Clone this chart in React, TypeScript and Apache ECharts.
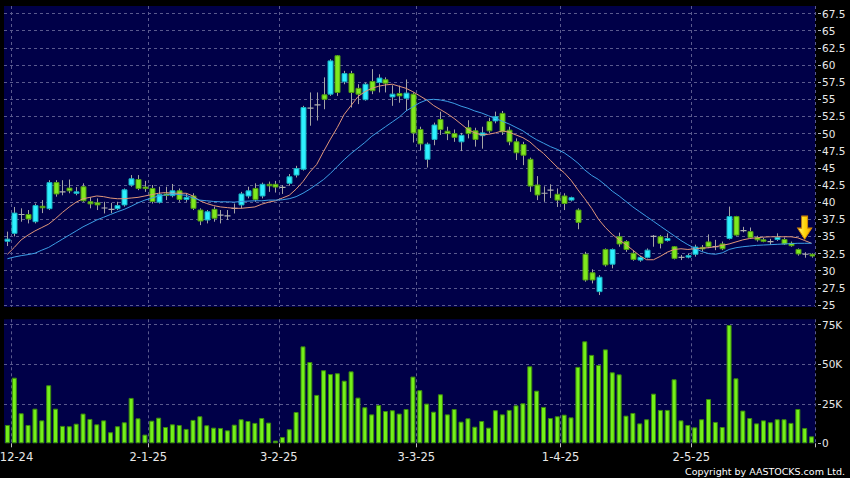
import React, { useEffect, useRef } from "react";
import * as echarts from "echarts";

// Trading days (D-M-YY)
const dates = [
  "29-11-24",
  "2-12-24", "3-12-24", "4-12-24", "5-12-24", "6-12-24", "9-12-24", "10-12-24", "11-12-24", "12-12-24", "13-12-24",
  "16-12-24", "17-12-24", "18-12-24", "19-12-24", "20-12-24", "23-12-24", "24-12-24", "27-12-24", "30-12-24", "31-12-24",
  "2-1-25", "3-1-25", "6-1-25", "7-1-25", "8-1-25", "9-1-25", "10-1-25", "13-1-25", "14-1-25", "15-1-25",
  "16-1-25", "17-1-25", "20-1-25", "21-1-25", "22-1-25", "23-1-25", "24-1-25", "27-1-25", "28-1-25",
  "3-2-25", "4-2-25", "5-2-25", "6-2-25", "7-2-25", "10-2-25", "11-2-25", "12-2-25", "13-2-25", "14-2-25",
  "17-2-25", "18-2-25", "19-2-25", "20-2-25", "21-2-25", "24-2-25", "25-2-25", "26-2-25", "27-2-25", "28-2-25",
  "3-3-25", "4-3-25", "5-3-25", "6-3-25", "7-3-25", "10-3-25", "11-3-25", "12-3-25", "13-3-25", "14-3-25",
  "17-3-25", "18-3-25", "19-3-25", "20-3-25", "21-3-25", "24-3-25", "25-3-25", "26-3-25", "27-3-25", "28-3-25", "31-3-25",
  "1-4-25", "2-4-25", "3-4-25", "7-4-25", "8-4-25", "9-4-25", "10-4-25", "11-4-25", "14-4-25", "15-4-25",
  "16-4-25", "17-4-25", "22-4-25", "23-4-25", "24-4-25", "25-4-25", "28-4-25", "29-4-25", "30-4-25",
  "2-5-25", "6-5-25", "7-5-25", "8-5-25", "9-5-25", "12-5-25", "13-5-25", "14-5-25", "15-5-25", "16-5-25",
  "19-5-25", "20-5-25", "21-5-25", "22-5-25", "23-5-25", "26-5-25", "27-5-25", "28-5-25",
];

const openP = [
  34.3, 35.45, 38.2, 38.2, 37.15, 39.4, 39.05, 42.85, 41.5, 42.05,
  41.4, 42.25, 40.05, 39.9, 39.15, 38.95, 39.05, 39.6, 42.5, 43.3,
  42.2, 42.0, 40.0, 41.2, 40.95, 41.65, 40.4, 40.9, 38.85, 37.4,
  38.95, 38.1, 38.0, 39.1, 39.6, 40.9, 42.0, 40.9, 42.6, 42.6,
  42.15, 42.75, 43.95, 44.8, 53.7, 54.2, 55.65, 55.75, 61.35, 57.55,
  58.75, 56.6, 54.95, 57.6, 57.45, 57.85, 55.35, 55.85, 55.15, 55.75,
  50.6, 46.25, 49.15, 52.05, 50.35, 50.0, 48.8, 50.85, 50.4, 49.7,
  51.75, 51.85, 52.95, 50.5, 48.8, 48.4, 46.25, 42.5, 41.3, 41.75,
  41.15, 40.9, 40.3, 38.85, 32.4, 29.7, 26.95, 33.1, 30.95, 34.95,
  34.25, 32.55, 31.55, 31.95, 35.0, 34.95, 34.4, 33.5, 31.95, 32.1,
  32.4, 33.4, 34.2, 33.5, 33.9, 34.7, 37.9, 35.85, 35.7, 34.85,
  34.5, 34.25, 34.55, 34.55, 34.0, 33.1, 32.4, 32.4,
];

const closeP = [
  34.6, 38.4, 38.2, 37.55, 39.5, 39.3, 42.85, 41.2, 41.5, 41.65,
  41.5, 40.2, 39.75, 39.6, 39.15, 38.95, 39.5, 41.8, 43.4, 42.0,
  42.1, 40.1, 41.1, 41.1, 41.65, 40.4, 40.7, 39.1, 37.25, 38.6,
  37.65, 38.1, 38.0, 39.1, 41.2, 41.65, 40.4, 42.6, 42.45, 42.2,
  42.15, 43.7, 44.9, 53.8, 53.7, 54.2, 55.0, 60.6, 56.0, 58.75,
  56.0, 55.75, 57.2, 56.25, 58.1, 57.35, 55.75, 55.5, 55.9, 50.1,
  48.5, 48.45, 51.25, 50.6, 50.0, 49.45, 49.75, 50.0, 49.15, 50.1,
  50.4, 52.45, 50.25, 48.8, 47.2, 46.85, 42.35, 41.05, 41.3, 41.75,
  40.3, 39.8, 40.65, 37.05, 28.65, 28.65, 29.05, 30.85, 33.1, 33.9,
  33.1, 31.65, 31.95, 33.0, 35.0, 34.0, 34.7, 31.8, 31.95, 32.2,
  33.45, 33.2, 33.5, 33.5, 33.2, 37.9, 35.2, 35.85, 34.85, 34.5,
  34.4, 34.25, 34.85, 33.9, 33.65, 32.45, 32.4, 32.15,
];

const lowP = [
  33.6, 35.0, 37.15, 36.9, 36.9, 38.4, 38.85, 40.8, 41.0, 41.3,
  41.0, 40.05, 39.1, 38.85, 38.35, 38.4, 38.85, 39.35, 42.25, 41.75,
  41.5, 39.8, 39.8, 40.3, 40.7, 40.05, 40.05, 38.85, 36.65, 36.9,
  37.15, 36.9, 37.4, 38.35, 39.1, 40.55, 40.05, 40.55, 41.5, 41.4,
  41.2, 42.4, 43.6, 44.6, 51.15, 51.9, 53.55, 55.5, 55.5, 57.2,
  53.8, 54.3, 54.8, 55.75, 56.0, 56.0, 54.05, 54.5, 53.3, 48.7,
  47.6, 45.05, 48.3, 49.8, 49.05, 48.8, 47.45, 49.3, 48.1, 47.8,
  50.1, 51.5, 49.8, 48.3, 46.15, 45.4, 41.5, 40.3, 40.05, 40.6,
  39.3, 38.85, 40.1, 36.05, 28.4, 28.15, 26.45, 30.6, 30.35, 33.5,
  32.75, 31.45, 31.3, 31.8, 33.5, 33.25, 34.25, 31.65, 31.55, 31.8,
  32.05, 32.8, 33.3, 33.0, 33.0, 34.55, 35.1, 35.6, 34.7, 34.25,
  34.15, 33.75, 34.35, 33.75, 33.5, 32.2, 31.9, 31.9,
];

const highP = [
  35.7, 39.3, 39.1, 38.85, 39.8, 40.3, 43.2, 43.2, 43.2, 43.3,
  42.2, 42.75, 40.7, 40.55, 40.05, 39.9, 40.05, 42.0, 43.95, 43.95,
  43.1, 42.5, 42.25, 42.25, 42.65, 42.0, 41.3, 41.3, 39.1, 38.85,
  39.35, 38.85, 38.85, 39.8, 41.5, 42.25, 42.75, 42.85, 43.0, 43.1,
  42.5, 44.1, 45.3, 54.05, 56.0, 56.0, 58.2, 60.85, 61.45, 59.15,
  59.15, 57.2, 57.45, 59.4, 58.65, 58.2, 57.05, 57.0, 57.9, 56.0,
  51.0, 48.7, 51.6, 53.2, 51.0, 50.6, 50.1, 51.95, 50.85, 51.0,
  52.3, 53.2, 53.3, 51.0, 49.3, 48.8, 46.5, 43.8, 42.3, 42.6,
  42.0, 41.3, 40.8, 39.1, 32.75, 30.2, 29.35, 33.25, 33.25, 35.55,
  34.45, 33.0, 32.15, 33.25, 35.2, 35.2, 35.45, 33.6, 32.3, 32.5,
  33.8, 33.75, 35.3, 34.5, 34.25, 39.35, 38.0, 36.4, 36.3, 35.1,
  34.8, 34.65, 35.45, 34.85, 34.25, 33.25, 32.7, 32.55,
];

// Volume in thousands of shares
const volumeK = [
  11.6, 41.5, 19.0, 11.6, 21.9, 14.5, 36.7, 21.9, 11.0, 10.8,
  12.4, 18.8, 15.4, 12.0, 14.5, 7.0, 10.8, 13.3, 28.7, 15.8,
  5.5, 14.3, 16.2, 10.3, 12.0, 11.6, 9.1, 14.8, 17.1, 11.4,
  9.9, 9.7, 8.2, 11.8, 15.2, 14.1, 12.9, 16.0, 13.1, 1.7,
  4.0, 8.9, 19.8, 61.3, 51.4, 30.6, 46.2, 43.8, 44.3, 39.6,
  45.5, 28.9, 22.8, 18.3, 24.2, 20.4, 20.9, 18.8, 21.7, 42.2,
  33.6, 25.1, 20.0, 31.0, 18.3, 21.7, 13.7, 15.8, 10.5, 14.1,
  9.9, 20.9, 18.3, 21.1, 24.0, 25.3, 48.7, 33.3, 23.0, 16.0,
  17.1, 18.1, 16.4, 48.3, 64.5, 55.9, 49.5, 59.4, 44.9, 43.6,
  17.5, 19.2, 12.6, 15.2, 31.4, 21.1, 21.1, 40.5, 14.5, 11.6,
  10.1, 15.2, 28.0, 13.5, 10.3, 74.8, 41.1, 20.7, 16.0, 12.6,
  14.5, 13.3, 15.2, 15.2, 12.9, 21.7, 9.7, 4.4,
];

// Moving averages
const maShort = [
  32.4, 33.4, 34.5, 35.2, 35.8, 36.3, 36.8, 37.6, 38.5, 39.3,
  40.0, 40.5, 40.7, 40.9, 40.8, 40.6, 40.5, 40.5, 40.6, 40.7,
  40.9, 41.1, 41.3, 41.4, 41.3, 41.3, 41.3, 40.9, 40.2, 39.8,
  39.5, 39.3, 39.2, 39.1, 39.1, 39.2, 39.3, 39.7, 40.0, 40.2,
  40.6, 41.0, 41.9, 43.0, 44.4, 45.5, 47.4, 49.2, 50.9, 52.8,
  54.1, 55.4, 56.1, 56.6, 56.9, 57.1, 57.2, 56.9, 56.6, 56.1,
  55.5, 54.9, 54.1, 53.5, 52.9, 52.2, 51.4, 50.6, 50.1, 49.8,
  49.9, 50.1, 50.4, 50.2, 49.8, 49.4, 48.8, 47.9, 47.1, 46.1,
  45.1, 44.3, 43.2, 41.8, 40.5, 39.1, 37.5, 36.3, 35.3, 34.5,
  33.8, 33.0, 32.2, 31.6, 31.6, 32.1, 32.7, 33.1, 33.2, 33.1,
  33.2, 33.3, 33.35, 33.5, 33.7, 33.9, 34.2, 34.5, 34.7, 34.8,
  34.9, 34.95, 34.95, 34.95, 34.95, 34.8, 34.4, 34.0,
];

const maLong = [
  31.75, 32.0, 32.2, 32.35, 32.55, 33.0, 33.4, 34.0, 34.6, 35.2,
  35.8, 36.4, 36.9, 37.4, 37.8, 38.2, 38.6, 38.95, 39.4, 39.9,
  40.3, 40.6, 40.9, 41.05, 41.2, 41.1, 41.0, 40.6, 40.3, 40.2,
  40.1, 40.05, 40.05, 40.0, 40.1, 40.15, 40.2, 40.2, 40.3, 40.3,
  40.35, 40.5, 40.8, 41.3, 41.9, 42.6, 43.3, 44.2, 45.2, 46.2,
  47.1, 47.9, 48.7, 49.6, 50.3, 51.0, 51.7, 52.4, 53.3, 53.9,
  54.5, 54.9, 55.0, 54.9, 54.7, 54.4, 54.0, 53.7, 53.3, 53.0,
  52.6, 52.2, 51.8, 51.4, 50.9, 50.4, 49.7, 49.1, 48.6, 48.1,
  47.7, 47.2, 46.5, 45.7, 44.7, 43.9, 43.3, 42.5, 41.6, 40.9,
  40.1, 39.3, 38.6, 37.9, 37.2, 36.5, 35.8, 35.1, 34.4, 33.8,
  33.3, 32.8, 32.5, 32.4, 32.6, 33.1, 33.35, 33.5, 33.6, 33.7,
  33.75, 33.8, 33.85, 33.9, 33.95, 34.0, 34.0, 34.0,
];

const labelDates = ["2-12-24", "2-1-25", "3-2-25", "3-3-25", "1-4-25", "2-5-25"];
const priceMin = 25;
const priceMax = 67.5;
const priceStep = 2.5;
const volMax = 75;
const volStep = 25;
const signalDate = "27-5-25";
const signalPrice = 34.6;

const BG = "#000048";
const GRID_LINE = "#5a5a8e";
const TEXT = "#e8e8e8";
const FONT = "DejaVu Sans";
const UP = "#2ef0ff";
const UP_EDGE = "#17aebd";
const DOWN = "#80e81e";
const DOWN_EDGE = "#4e9a12";
const WICK = "#a4a4a4";
const DOJI = "#b0b0b0";

const isLabel = (i: number) => labelDates.indexOf(dates[i]) >= 0;

const renderCandle = (_params: any, api: any) => {
  const i = api.value(0);
  const o = api.value(1);
  const c = api.value(2);
  const l = api.value(3);
  const h = api.value(4);
  const pHi = api.coord([i, h]);
  const pLo = api.coord([i, l]);
  const pO = api.coord([i, o]);
  const pC = api.coord([i, c]);
  const bw = api.size([1, 0])[0];
  const w = Math.max(3, Math.round(bw * 0.74));
  const x = Math.round(pHi[0]) + 0.5;
  const yTop = Math.min(pO[1], pC[1]);
  const yBot = Math.max(pO[1], pC[1]);
  const children: any[] = [
    {
      type: "line",
      shape: { x1: x, y1: pHi[1], x2: x, y2: pLo[1] },
      style: { stroke: WICK, lineWidth: 1 },
    },
  ];
  if (o === c) {
    children.push({
      type: "line",
      shape: { x1: x - w / 2 - 0.5, y1: yTop, x2: x + w / 2 + 0.5, y2: yTop },
      style: { stroke: DOJI, lineWidth: 1.2 },
    });
  } else {
    const up = c > o;
    children.push({
      type: "rect",
      shape: { x: x - w / 2, y: yTop, width: w, height: Math.max(yBot - yTop, 1.5) },
      style: { fill: up ? UP : DOWN, stroke: up ? UP_EDGE : DOWN_EDGE, lineWidth: 1 },
    });
  }
  return { type: "group", children };
};

export default function App() {
  const ref = useRef<HTMLDivElement>(null);

  useEffect(() => {
    document.body.style.margin = "0";
    document.body.style.background = "#000";
    const chart = echarts.init(ref.current as HTMLDivElement, null, { renderer: "svg" });

    const dash = { color: GRID_LINE, type: [3, 3] as any, width: 1 };
    const gridCommon = { left: 4, width: 811, containLabel: false, outerBoundsMode: "none" };

    const arrowGradient = new echarts.graphic.LinearGradient(0, 0, 1, 0, [
      { offset: 0, color: "#fff38a" },
      { offset: 0.5, color: "#ffd60a" },
      { offset: 1, color: "#f2a600" },
    ]);

    const option: any = {
      animation: false,
      backgroundColor: "#000000",
      textStyle: { fontFamily: FONT },
      grid: [
        { ...gridCommon, top: 6, height: 301, show: true, backgroundColor: BG, borderWidth: 0 },
        { ...gridCommon, top: 13.6, height: 291.4 },
        { ...gridCommon, top: 319.3, height: 124, show: true, backgroundColor: BG, borderWidth: 0 },
        { ...gridCommon, top: 324.7, height: 118.6 },
      ],
      xAxis: [
        {
          type: "category",
          gridIndex: 0,
          data: dates,
          boundaryGap: true,
          axisLine: { show: false },
          axisTick: { show: false },
          axisLabel: { show: false },
          splitLine: { show: true, interval: (i: number) => isLabel(i), lineStyle: dash },
        },
        { type: "category", gridIndex: 1, data: dates, boundaryGap: true, show: false },
        {
          type: "category",
          gridIndex: 2,
          data: dates,
          boundaryGap: true,
          axisLine: { show: false },
          axisTick: { show: false },
          axisLabel: { show: false },
          splitLine: { show: true, interval: (i: number) => isLabel(i), lineStyle: dash },
        },
        {
          type: "category",
          gridIndex: 3,
          data: dates,
          boundaryGap: true,
          position: "bottom",
          offset: 1.5,
          axisLine: { show: false },
          axisTick: {
            show: true,
            interval: (i: number) => isLabel(i),
            length: 4,
            lineStyle: { color: "#bdbdbd", width: 1 },
          },
          axisLabel: {
            show: true,
            interval: (i: number) => isLabel(i),
            color: TEXT,
            fontFamily: FONT,
            fontSize: 11.5,
            margin: 6,
            padding: [0, 7, 0, 0],
          },
          splitLine: { show: false },
        },
      ],
      yAxis: [
        { type: "value", gridIndex: 0, show: false, min: 0, max: 1 },
        {
          type: "value",
          gridIndex: 1,
          position: "right",
          min: priceMin,
          max: priceMax,
          interval: priceStep,
          offset: 3,
          axisLine: { show: false },
          axisTick: { show: true, length: 3, lineStyle: { color: "#bdbdbd" } },
          axisLabel: {
            color: TEXT,
            fontFamily: FONT,
            fontSize: 10.5,
            margin: 4,
            formatter: (v: number) => (Number.isInteger(v) ? String(v) : v.toFixed(1)),
          },
          splitLine: { show: true, lineStyle: dash },
        },
        { type: "value", gridIndex: 2, show: false, min: 0, max: 1 },
        {
          type: "value",
          gridIndex: 3,
          position: "right",
          min: 0,
          max: volMax,
          interval: volStep,
          offset: 3,
          axisLine: { show: false },
          axisTick: { show: true, length: 3, lineStyle: { color: "#bdbdbd" } },
          axisLabel: {
            color: TEXT,
            fontFamily: FONT,
            fontSize: 10.5,
            margin: 4,
            formatter: (v: number) => (v === 0 ? "0" : v + "K"),
          },
          splitLine: {
            show: true,
            lineStyle: { ...dash, color: ["rgba(0,0,0,0)", GRID_LINE, GRID_LINE, GRID_LINE] },
          },
        },
      ],
      series: [
        {
          type: "bar",
          name: "Volume",
          xAxisIndex: 3,
          yAxisIndex: 3,
          data: volumeK,
          barWidth: 5,
          itemStyle: { color: "#74f01a", borderColor: "#3c8a0e", borderWidth: 1 },
        },
        {
          type: "custom",
          name: "Price",
          xAxisIndex: 1,
          yAxisIndex: 1,
          renderItem: renderCandle,
          clip: true,
          encode: { x: 0, y: [1, 2, 3, 4] },
          data: dates.map((_, i) => [i, openP[i], closeP[i], lowP[i], highP[i]]),
        },
        {
          type: "line",
          name: "MA10",
          xAxisIndex: 1,
          yAxisIndex: 1,
          data: maShort,
          symbol: "none",
          lineStyle: { color: "#e0967a", width: 1 },
          markPoint: {
            silent: true,
            data: [
              {
                coord: [signalDate, signalPrice],
                symbol: "path://M4,0L10,0L10,12L14,12L7,23L0,12L4,12Z",
                symbolSize: [14, 23],
                symbolOffset: [0, "-50%"],
                itemStyle: { color: arrowGradient, borderColor: "#d98a00", borderWidth: 1 },
                label: { show: false },
              },
            ],
          },
        },
        {
          type: "line",
          name: "MA20",
          xAxisIndex: 1,
          yAxisIndex: 1,
          data: maLong,
          symbol: "none",
          lineStyle: { color: "#3c9ee6", width: 1 },
        },
      ],
      graphic: [
        {
          type: "text",
          right: 5,
          top: 466,
          style: {
            text: "Copyright by AASTOCKS.com Ltd.",
            fill: "#ffffff",
            font: `9.5px "${FONT}"`,
          },
        },
      ],
    };

    chart.setOption(option);
    return () => chart.dispose();
  }, []);

  return <div ref={ref} style={{ width: 850, height: 478, background: "#000" }} />;
}
